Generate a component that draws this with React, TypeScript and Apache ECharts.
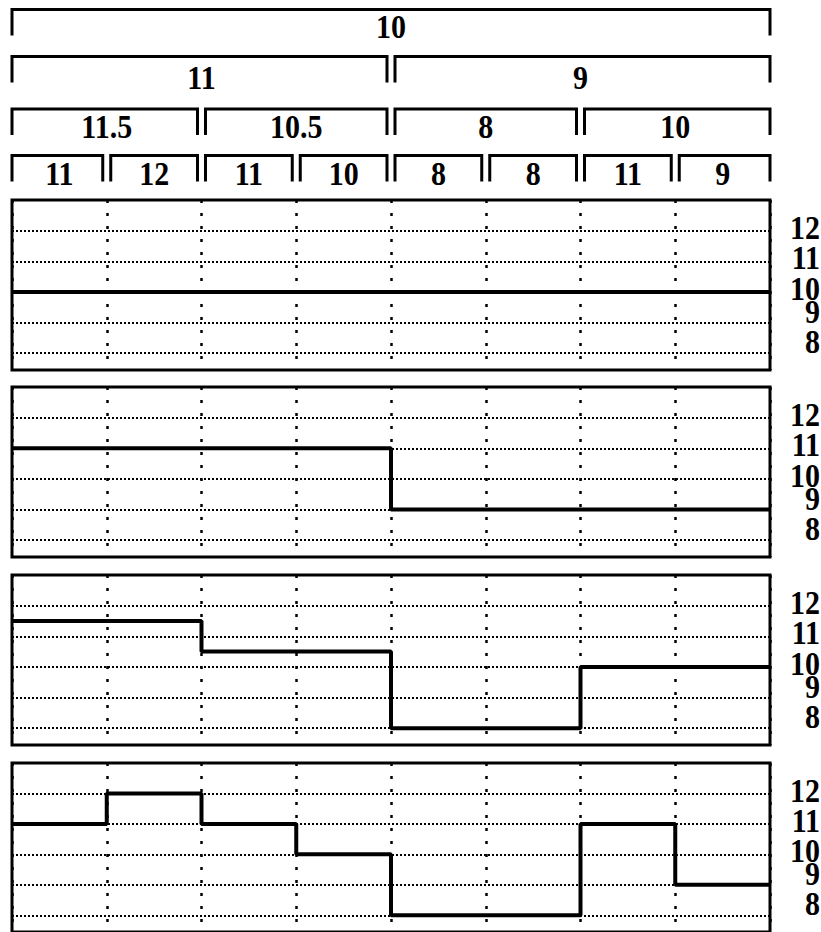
import React, { useEffect, useRef } from "react";
import * as echarts from "echarts";

// Values of the four step panels (8 columns each)
const panel1 = [10, 10, 10, 10, 10, 10, 10, 10];
const panel2 = [11, 11, 11, 11, 9, 9, 9, 9];
const panel3 = [11.5, 11.5, 10.5, 10.5, 8, 8, 10, 10];
const panel4 = [11, 12, 11, 10, 8, 8, 11, 9];
const panels = [panel1, panel2, panel3, panel4];

// Right-hand tick values
const yTicks = [8, 9, 10, 11, 12];
const yTickLabels = ["8", "9", "10", "11", "12"];

// Header bracket labels, coarse to fine
const level1 = ["10"];
const level2 = ["11", "9"];
const level3 = ["11.5", "10.5", "8", "10"];
const level4 = ["11", "12", "11", "10", "8", "8", "11", "9"];
const levels = [level1, level2, level3, level4];

// layout / style constants
const GRID_TOPS = [200, 387, 575, 763];
const GRID_H = 170;
const GRID_LEFT = 12;
const GRID_RIGHT = 51;
const LEVEL_TOPS = [9.5, 56.5, 109, 155.5];
const LEVEL_LABEL_DY = [17, 21, 18, 18];
const BRACKET_LEN = 26;
const LABEL_DY: Record<number, number> = { 12: -3, 11: -3, 10: -3, 9: -11, 8: -11 };
const TEXT_STYLE = {
  fontSize: 30,
  fontWeight: "bold",
  fontFamily: '"Liberation Serif", "Times New Roman", serif',
  fill: "#000",
};
const TEXT_SCALE_Y = 1.12;
const NCOLS = 8;

export default function App() {
  const ref = useRef<HTMLDivElement>(null);

  useEffect(() => {
    if (!ref.current) return;
    const chart = echarts.init(ref.current, undefined, { renderer: "svg" });

    const grids = GRID_TOPS.map((top) => ({
      left: GRID_LEFT,
      right: GRID_RIGHT,
      top,
      height: GRID_H,
      show: true,
      borderColor: "#000",
      borderWidth: 3,
      backgroundColor: "transparent",
      containLabel: false,
    }));

    const xAxes = GRID_TOPS.map((_, i) => ({
      type: "value" as const,
      gridIndex: i,
      min: 0,
      max: NCOLS,
      interval: 1,
      axisLine: { show: false },
      axisTick: { show: false },
      axisLabel: { show: false },
      splitLine: {
        show: true,
        lineStyle: { color: "#000", width: 2.5, type: [3, 10] },
      },
    }));

    const yAxes = GRID_TOPS.map((_, i) => ({
      type: "value" as const,
      gridIndex: i,
      min: 7.45,
      max: 13.0,
      axisLine: { show: false },
      axisTick: { show: false },
      axisLabel: { show: false },
      splitLine: { show: false },
    }));

    const series = panels.map((vals, i) => {
      const data: number[][] = vals.map((v, k) => [k, v]);
      data.push([vals.length, vals[vals.length - 1]]);
      return {
        type: "line" as const,
        xAxisIndex: i,
        yAxisIndex: i,
        step: "end" as const,
        data,
        showSymbol: false,
        symbol: "none",
        z: 5,
        lineStyle: { color: "#000", width: 4 },
        markLine: {
          silent: true,
          symbol: ["none", "none"],
          label: { show: false },
          lineStyle: { color: "#000", width: 2, type: [2, 2] },
          z: 1,
          data: yTicks.map((v) => ({ yAxis: v })),
        },
      };
    });

    chart.setOption({
      animation: false,
      backgroundColor: "#fff",
      grid: grids,
      xAxis: xAxes,
      yAxis: yAxes,
      series,
    });

    const px = (v: number) => chart.convertToPixel({ xAxisIndex: 0 }, v) as number;
    const graphics: any[] = [];

    // header brackets
    levels.forEach((labels, li) => {
      const n = labels.length;
      const span = NCOLS / n;
      const top = LEVEL_TOPS[li];
      labels.forEach((lab, gi) => {
        const a = gi * span;
        const b = (gi + 1) * span;
        const x0 = px(a) + (gi === 0 ? 0 : 4);
        const x1 = px(b) - (gi === n - 1 ? 0 : 4);
        graphics.push({
          type: "polyline",
          shape: {
            points: [
              [x0, top + BRACKET_LEN],
              [x0, top],
              [x1, top],
              [x1, top + BRACKET_LEN],
            ],
          },
          style: { stroke: "#000", lineWidth: 3, fill: null, lineJoin: "miter" },
        });
        graphics.push({
          type: "text",
          x: (px(a) + px(b)) / 2,
          y: top + LEVEL_LABEL_DY[li],
          scaleY: TEXT_SCALE_Y,
          style: {
            ...TEXT_STYLE,
            text: lab,
            align: "center",
            verticalAlign: "middle",
          },
        });
      });
    });

    // right-hand tick labels
    GRID_TOPS.forEach((_, gi) => {
      yTicks.forEach((v, ti) => {
        const y = chart.convertToPixel({ yAxisIndex: gi }, v) as number;
        graphics.push({
          type: "text",
          x: 820,
          y: y + LABEL_DY[v],
          z: 10,
          scaleY: TEXT_SCALE_Y,
          style: {
            ...TEXT_STYLE,
            text: yTickLabels[ti],
            align: "right",
            verticalAlign: "middle",
          },
        });
      });
    });

    chart.setOption({ graphic: graphics });

    return () => {
      chart.dispose();
    };
  }, []);

  return (
    <div
      ref={ref}
      style={{ position: "fixed", left: 0, top: 0, width: 821, height: 932, background: "#fff" }}
    />
  );
}
